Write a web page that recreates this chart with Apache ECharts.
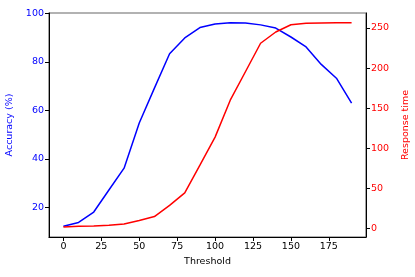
<!DOCTYPE html>
<html>
<head>
<meta charset="utf-8">
<script src="https://cdn.jsdelivr.net/npm/echarts@6/dist/echarts.min.js"></script>
<style>html,body{margin:0;padding:0;background:#fff}#c{width:415px;height:277px}</style>
</head>
<body>
<div id="c"></div>
<script>
var thresholds = [0,10,20,30,40,50,60,70,80,90,100,110,120,130,140,150,160,170,180,190];
var accuracy = [12.2,13.8,18.1,27.2,36.2,54.8,69.2,83.4,89.9,94.2,95.7,96.2,96.1,95.3,94.0,90.3,86.2,79.0,73.3,63.0];
var responseTime = [2.0,2.9,3.3,4.1,5.8,10,15,29,44.5,79,114,160,195.5,231,245,254,255.8,256.2,256.5,256.5];
var xTicks = [0,25,50,75,100,125,150,175];
var accTicks = [20,40,60,80,100];
var rtTicks = [0,50,100,150,200,250];

var font = 'DejaVu Sans';
var fs = 9.5;
var chart = echarts.init(document.getElementById('c'), null, {renderer:'canvas'});
chart.setOption({
  animation: false,
  backgroundColor: '#fff',
  grid: {left:49, right:49, top:13, bottom:40, show:true, borderColor:'#666', borderWidth:1.2,
         containLabel:false, outerBoundsMode:'none'},
  xAxis: {
    type:'value', min:-9.5, max:199.5,
    name:'Threshold', nameLocation:'middle', nameGap:19,
    nameTextStyle:{color:'#000', fontSize:fs, fontFamily:font},
    axisLine:{onZero:false, lineStyle:{color:'#000'}},
    axisTick:{show:true, length:4, lineStyle:{color:'#000'}, customValues:xTicks},
    axisLabel:{color:'#000', fontSize:fs, fontFamily:font, margin:5, customValues:xTicks},
    splitLine:{show:false}
  },
  yAxis: [{
    type:'value', min:7.8, max:100.2, position:'left',
    name:'Accuracy (%)', nameLocation:'middle', nameGap:31, nameRotate:90,
    nameTextStyle:{color:'#0000ff', fontSize:fs, fontFamily:font},
    axisLine:{show:true, onZero:false, lineStyle:{color:'#000'}},
    axisTick:{show:true, length:4, lineStyle:{color:'#000'}, customValues:accTicks},
    axisLabel:{color:'#0000ff', fontSize:fs, fontFamily:font, margin:5, customValues:accTicks},
    splitLine:{show:false}
  },{
    type:'value', min:-10.5, max:268.7, position:'right',
    name:'Response time', nameLocation:'middle', nameGap:29, nameRotate:90,
    nameTextStyle:{color:'#ff0000', fontSize:fs, fontFamily:font},
    axisLine:{show:true, onZero:false, lineStyle:{color:'#000'}},
    axisTick:{show:true, length:4, lineStyle:{color:'#000'}, customValues:rtTicks},
    axisLabel:{color:'#ff0000', fontSize:fs, fontFamily:font, margin:5, customValues:rtTicks},
    splitLine:{show:false}
  }],
  series: [{
    type:'line', yAxisIndex:0, showSymbol:false, symbol:'none',
    lineStyle:{color:'#0000ff', width:1.5},
    data: thresholds.map(function(t,i){return [t, accuracy[i]];})
  },{
    type:'line', yAxisIndex:1, showSymbol:false, symbol:'none',
    lineStyle:{color:'#ff0000', width:1.5},
    data: thresholds.map(function(t,i){return [t, responseTime[i]];})
  }]
});
</script>
</body>
</html>
